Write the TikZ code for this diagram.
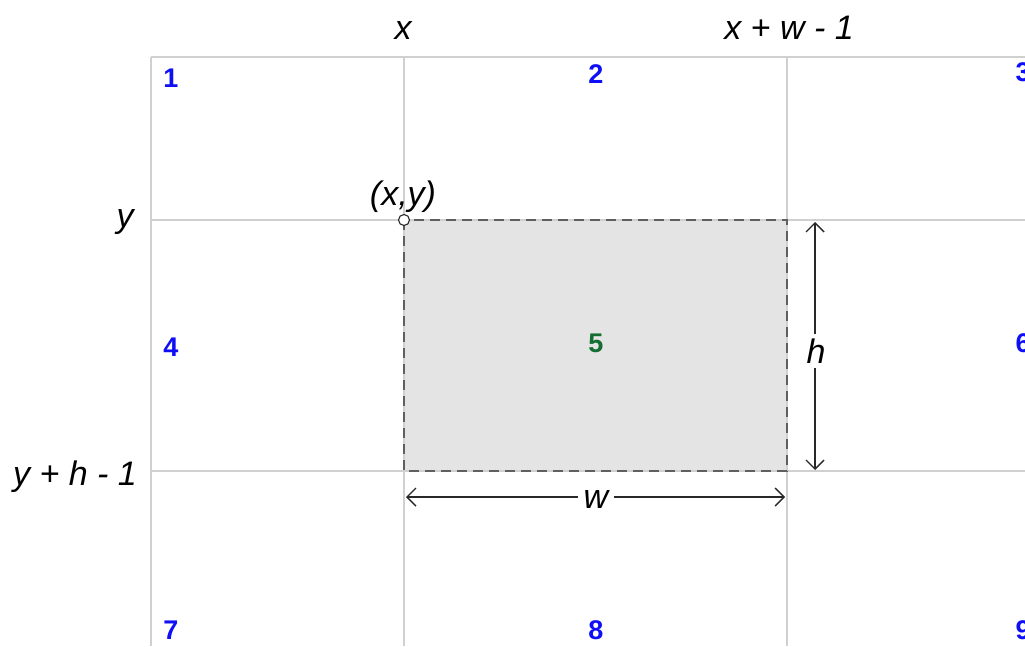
\documentclass[tikz,border=0pt]{standalone}
\usepackage{fontspec}
\setmainfont{Liberation Sans}
\usetikzlibrary{arrows.meta}
\definecolor{gridc}{RGB}{208,208,208}
\definecolor{boxc}{RGB}{228,228,228}
\definecolor{dashc}{RGB}{95,95,95}
\definecolor{numblue}{RGB}{15,15,245}
\definecolor{numgreen}{RGB}{20,110,50}
\definecolor{arrc}{RGB}{40,40,40}
\begin{document}
\begin{tikzpicture}[x=1pt,y=-1pt,
  gridline/.style={draw=gridc,line width=2pt},
  num/.style={font=\fontsize{27}{29}\selectfont\bfseries,text=numblue,inner sep=0pt},
  lbl/.style={font=\fontsize{34}{36}\selectfont\itshape,inner sep=0pt},
  dim/.style={draw=arrc,line width=1.4pt,{Straight Barb[length=9pt,width=18pt]}-{Straight Barb[length=9pt,width=18pt]}}]
\useasboundingbox (0,0) rectangle (1025,646);
% grid
\coordinate (TL) at (151,57);
\coordinate (TR) at (1025,57);
\coordinate (BL) at (151,646);
\coordinate (V1t) at (404,57);
\coordinate (V1b) at (404,646);
\coordinate (V2t) at (787,57);
\coordinate (V2b) at (787,646);
\coordinate (H1l) at (151,220);
\coordinate (H1r) at (1025,220);
\coordinate (H2l) at (151,471);
\coordinate (H2r) at (1025,471);
% box
\coordinate (A) at (404,220);
\coordinate (B) at (787,471);
\fill[boxc] (A) rectangle (B);
\draw[gridline] (TL) -- (TR);
\draw[gridline] (TL) -- (BL);
\draw[gridline] (V1t) -- (V1b);
\draw[gridline] (V2t) -- (V2b);
\draw[gridline] (H1l) -- (H1r);
\draw[gridline] (H2l) -- (H2r);
\draw[draw=dashc,line width=2.2pt,dash pattern=on 10pt off 6pt] (A) rectangle (B);
\node[circle,draw=arrc,fill=white,line width=1.1pt,minimum size=11pt,inner sep=0pt] (corner) at (A) {};
% numbers
\node[num] (n1) at (171,78) {1};
\node[num] (n2) at (596,74) {2};
\node[num] (n3) at (1023,72) {3};
\node[num] (n4) at (171,347) {4};
\node[num,text=numgreen] (n5) at (596,343) {5};
\node[num] (n6) at (1023,343) {6};
\node[num] (n7) at (171,630) {7};
\node[num] (n8) at (596,630) {8};
\node[num] (n9) at (1023,630) {9};
% labels
\node[lbl] (lx) at (403,31) {x};
\node[lbl] (lxw) at (789,28) {x + w - 1};
\node[lbl] (ly) at (125,222) {y};
\node[lbl] (lyh) at (75,477) {y + h - 1};
\node[lbl] (lxy) at (403,197) {(x,y)};
% dimension arrows
\coordinate (ht) at (815,222);
\coordinate (hb) at (815,470);
\coordinate (wl) at (406,497);
\coordinate (wr) at (785,497);
\draw[dim] (ht) -- (hb);
\node[lbl,fill=white,inner sep=5pt] (lh) at (816,351) {h};
\draw[dim] (wl) -- (wr);
\node[lbl,fill=white,inner sep=6pt] (lw) at (596,500) {w};
\end{tikzpicture}
\end{document}
